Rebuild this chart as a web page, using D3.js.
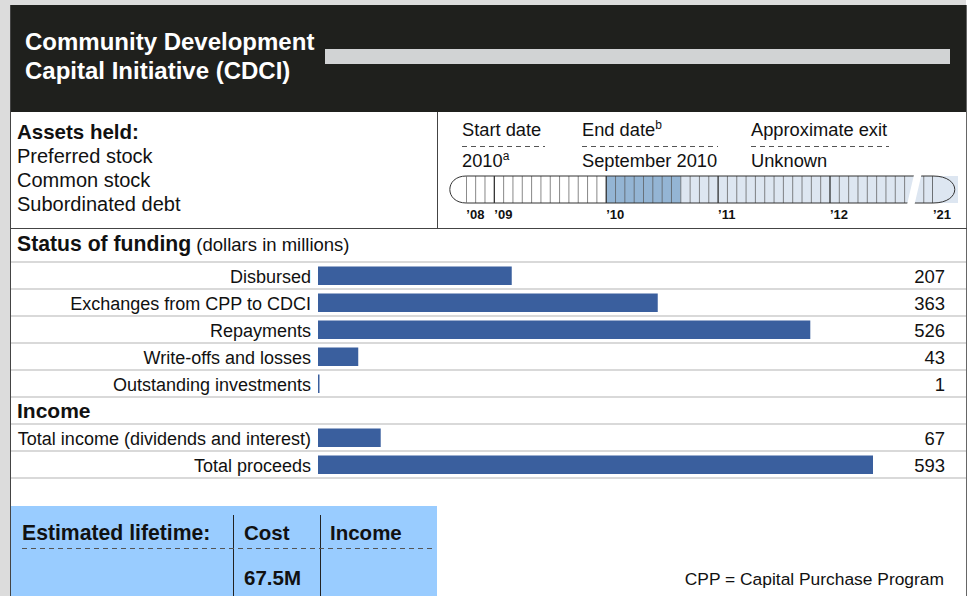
<!DOCTYPE html>
<html>
<head>
<meta charset="utf-8">
<script src="https://cdn.jsdelivr.net/npm/d3@7"></script>
<style>
  body { margin: 0; background: #fff; }
  svg text { font-family: "Liberation Sans", Arial, Helvetica, sans-serif; fill: #111; }
</style>
</head>
<body>
<script>
// chart data
var titleLines = ["Community Development", "Capital Initiative (CDCI)"];
var assetsHeld = ["Preferred stock", "Common stock", "Subordinated debt"];
var fundingLabels = ["Disbursed", "Exchanges from CPP to CDCI", "Repayments", "Write-offs and losses", "Outstanding investments"];
var fundingValues = [207, 363, 526, 43, 1];
var incomeLabels = ["Total income (dividends and interest)", "Total proceeds"];
var incomeValues = [67, 593];
var dateHeads = ["Start date", "End date", "Approximate exit"];
var dateValues = ["2010", "September 2010", "Unknown"];
var dateNotes = ["a", "b", ""];
// timeline, in months counted from Jan 2008
var yearLabels = ["’08", "’09", "’10", "’11", "’12", "’21"];
var yearMonths = [9, 12, 24, 36, 48, 156];
var activeMonths = [24, 32];
var lifetimeHeads = ["Cost", "Income"];
var lifetimeValues = ["67.5M", ""];

var svgWidth = 970;
var svgHeight = 596;

var svg = d3.select("body")
  .append("svg")
  .attr("width", svgWidth)
  .attr("height", svgHeight);

// page edges
svg.append("rect").attr("x", 0).attr("y", 0).attr("width", 10).attr("height", svgHeight).attr("fill", "#dcdcdc");
svg.append("rect").attr("x", 0).attr("y", 0).attr("width", 966).attr("height", 5).attr("fill", "#dcdcdc");

// header block
svg.append("rect").attr("x", 10).attr("y", 5).attr("width", 956).attr("height", 107).attr("fill", "#1f201d");
svg.selectAll(".title")
  .data(titleLines)
  .enter()
  .append("text")
  .attr("x", 25)
  .attr("y", (d, i) => 50 + i * 29)
  .style("font-size", "24px")
  .style("font-weight", "bold")
  .style("fill", "#fff")
  .text(d => d);
svg.append("rect").attr("x", 325).attr("y", 49).attr("width", 625).attr("height", 15).attr("fill", "#d1d3d4");

// frame
svg.append("line").attr("x1", 10.5).attr("x2", 10.5).attr("y1", 5).attr("y2", svgHeight).attr("stroke", "#444");
svg.append("line").attr("x1", 966.5).attr("x2", 966.5).attr("y1", 5).attr("y2", svgHeight).attr("stroke", "#666");
svg.append("line").attr("x1", 10).attr("x2", 967).attr("y1", 228.5).attr("y2", 228.5).attr("stroke", "#444");
svg.append("line").attr("x1", 437.5).attr("x2", 437.5).attr("y1", 112).attr("y2", 229).attr("stroke", "#444");

// assets held
svg.append("text").attr("x", 17).attr("y", 139)
  .style("font-size", "20.5px").style("font-weight", "bold").text("Assets held:");
svg.selectAll(".asset")
  .data(assetsHeld)
  .enter()
  .append("text")
  .attr("x", 17)
  .attr("y", (d, i) => 163 + i * 24)
  .style("font-size", "20px")
  .text(d => d);

// dates
var dateX = [462, 582, 751];
var dashW = [83, 136, 138];
dateHeads.forEach(function(h, i) {
  var t = svg.append("text").attr("x", dateX[i]).attr("y", 136).style("font-size", "18.3px").text(h);
  if (i === 1) t.append("tspan").attr("dy", -7).style("font-size", "12px").text(dateNotes[i]);
  svg.append("line")
    .attr("x1", dateX[i]).attr("x2", dateX[i] + dashW[i])
    .attr("y1", 146.5).attr("y2", 146.5)
    .attr("stroke", "#555").attr("stroke-dasharray", "5,4");
  var v = svg.append("text").attr("x", dateX[i]).attr("y", 167).style("font-size", "18.3px").text(dateValues[i]);
  if (i === 0) v.append("tspan").attr("dy", -7).style("font-size", "12px").text(dateNotes[i]);
});

// timeline
var tTop = 176, tBot = 203;
var xTime = d3.scaleLinear().domain([12, 48]).range([494.3, 830]);
var xLate = d3.scaleLinear().domain([154, 156]).range([914.5, 933]);
var breakM = 56.8;
var tl = svg.append("g");

tl.append("rect").attr("x", xTime(9)).attr("y", tTop).attr("width", xTime(activeMonths[0]) - xTime(9)).attr("height", tBot - tTop).attr("fill", "#fff");
tl.append("rect").attr("x", xTime(activeMonths[0])).attr("y", tTop).attr("width", xTime(activeMonths[1]) - xTime(activeMonths[0])).attr("height", tBot - tTop).attr("fill", "#94b5d4");
tl.append("rect").attr("x", xTime(activeMonths[1])).attr("y", tTop).attr("width", xTime(breakM) - xTime(activeMonths[1])).attr("height", tBot - tTop).attr("fill", "#dde6f1");
tl.append("rect").attr("x", xLate(154) - 4).attr("y", tTop).attr("width", 958 - xLate(154) + 4).attr("height", tBot - tTop).attr("fill", "#dde6f1");

// month lines
var mainMonths = d3.range(10, 57);
tl.selectAll(".month")
  .data(mainMonths)
  .enter()
  .append("line")
  .attr("x1", d => xTime(d)).attr("x2", d => xTime(d))
  .attr("y1", tTop).attr("y2", tBot)
  .attr("stroke", d => d % 12 === 0 ? "#222" : "#555")
  .attr("stroke-width", d => d % 12 === 0 ? 1.2 : 0.7);
tl.selectAll(".late")
  .data([155, 156])
  .enter()
  .append("line")
  .attr("x1", d => xLate(d)).attr("x2", d => xLate(d))
  .attr("y1", tTop).attr("y2", tBot)
  .attr("stroke", d => d % 12 === 0 ? "#222" : "#555")
  .attr("stroke-width", d => d % 12 === 0 ? 1.2 : 0.7);

// outline and caps
tl.append("line").attr("x1", xTime(9)).attr("x2", xLate(156)).attr("y1", tTop).attr("y2", tTop).attr("stroke", "#333");
tl.append("line").attr("x1", xTime(9)).attr("x2", xLate(156)).attr("y1", tBot).attr("y2", tBot).attr("stroke", "#333");
tl.append("line").attr("x1", xTime(9)).attr("x2", xTime(9)).attr("y1", tTop).attr("y2", tBot).attr("stroke", "#333");
tl.append("path")
  .attr("d", `M${xTime(9)},${tTop} C${xTime(9) - 22},${tTop} ${xTime(9) - 22},${tBot} ${xTime(9)},${tBot}`)
  .attr("fill", "#fff").attr("stroke", "#333");
tl.append("path")
  .attr("d", `M${xLate(156)},${tTop} C${xLate(156) + 29},${tTop} ${xLate(156) + 29},${tBot} ${xLate(156)},${tBot}`)
  .attr("fill", "#dde6f1").attr("stroke", "#333");
// break in the bar
tl.append("polygon")
  .attr("points", `${xTime(breakM) + 2},${tTop - 1.5} ${xLate(154) + 7},${tTop - 1.5} ${xLate(154)},${tBot + 1.5} ${xTime(breakM) - 5},${tBot + 1.5}`)
  .attr("fill", "#fff");

tl.selectAll(".year")
  .data(yearLabels)
  .enter()
  .append("text")
  .attr("x", (d, i) => yearMonths[i] > 100 ? xLate(yearMonths[i]) : xTime(yearMonths[i]))
  .attr("y", 219)
  .style("font-size", "13px")
  .style("font-weight", "bold")
  .text(d => d);

// status of funding
var sf = svg.append("text").attr("x", 17).attr("y", 251).style("font-size", "21.2px").style("font-weight", "bold").text("Status of funding");
sf.append("tspan").style("font-size", "18.5px").style("font-weight", "normal").text(" (dollars in millions)");

var rows = fundingLabels.concat(["Income"], incomeLabels);
var rowValues = fundingValues.concat([null], incomeValues);

var yScale = d3.scaleBand()
  .domain(rows)
  .range([262, 262 + 27 * rows.length]);

var xScale = d3.scaleLinear()
  .domain([0, d3.max(rowValues)])
  .range([318, 873]);

// separator lines
svg.selectAll(".sep")
  .data(rows.concat(["end"]))
  .enter()
  .append("line")
  .attr("x1", 11).attr("x2", 966)
  .attr("y1", (d, i) => 262 + i * yScale.step())
  .attr("y2", (d, i) => 262 + i * yScale.step())
  .attr("stroke", "#d9d9d9").attr("stroke-width", 2);

var barRows = rows.map((d, i) => ({ label: d, value: rowValues[i] })).filter(d => d.value !== null);

svg.selectAll(".bar")
  .data(barRows)
  .enter()
  .append("rect")
  .attr("x", xScale(0))
  .attr("y", d => yScale(d.label) + 4.5)
  .attr("width", d => Math.max(1.5, xScale(d.value) - xScale(0)))
  .attr("height", yScale.bandwidth() - 8.5)
  .attr("fill", "#3a5f9e");

svg.selectAll(".label")
  .data(barRows)
  .enter()
  .append("text")
  .attr("x", 311)
  .attr("y", d => yScale(d.label) + 20.5)
  .attr("text-anchor", "end")
  .style("font-size", "18px")
  .text(d => d.label);

svg.selectAll(".value")
  .data(barRows)
  .enter()
  .append("text")
  .attr("x", 945)
  .attr("y", d => yScale(d.label) + 20.5)
  .attr("text-anchor", "end")
  .style("font-size", "18.5px")
  .text(d => d.value);

svg.append("text").attr("x", 17).attr("y", yScale("Income") + 21)
  .style("font-size", "21px").style("font-weight", "bold").text("Income");

// estimated lifetime box
svg.append("rect").attr("x", 11).attr("y", 506).attr("width", 426).attr("height", 90).attr("fill", "#99ccff");
svg.append("text").attr("x", 22).attr("y", 540).style("font-size", "21.2px").style("font-weight", "bold").text("Estimated lifetime:");
var colX = [244, 330];
svg.selectAll(".lhead")
  .data(lifetimeHeads)
  .enter()
  .append("text")
  .attr("x", (d, i) => colX[i])
  .attr("y", 540)
  .style("font-size", "20.5px").style("font-weight", "bold")
  .text(d => d);
svg.selectAll(".lval")
  .data(lifetimeValues)
  .enter()
  .append("text")
  .attr("x", (d, i) => colX[i])
  .attr("y", 585)
  .style("font-size", "20.5px").style("font-weight", "bold")
  .text(d => d);
svg.append("line").attr("x1", 233.5).attr("x2", 233.5).attr("y1", 515).attr("y2", 596).attr("stroke", "#222");
svg.append("line").attr("x1", 320.5).attr("x2", 320.5).attr("y1", 515).attr("y2", 596).attr("stroke", "#222");
svg.append("line").attr("x1", 22).attr("x2", 432).attr("y1", 548.5).attr("y2", 548.5)
  .attr("stroke", "#555").attr("stroke-dasharray", "5,4");

svg.append("text").attr("x", 944).attr("y", 585).attr("text-anchor", "end")
  .style("font-size", "17.4px").text("CPP = Capital Purchase Program");
</script>
</body>
</html>
